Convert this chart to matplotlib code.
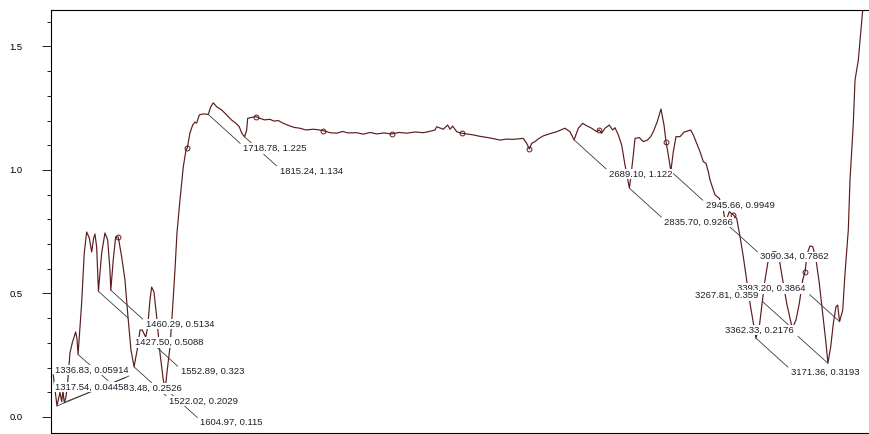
import matplotlib
matplotlib.use('Agg')
import matplotlib.pyplot as plt
from matplotlib.ticker import MultipleLocator

plt.rcParams['font.family'] = ['Liberation Sans', 'DejaVu Sans']

# spectrum (wavenumber, absorbance)
wavenumber = [1307.7, 1317.5, 1325.5, 1330.0, 1333.5, 1336.8, 1341.0, 1345.4, 1352.0, 1358.1,
              1367.1, 1370.5, 1373.5, 1383.0, 1389.9, 1396.3, 1403.2, 1409.6, 1414.9, 1418.3,
              1422.8, 1427.5, 1436.1, 1444.8, 1452.0, 1458.1, 1460.3, 1466.8, 1473.2, 1480.1,
              1489.1, 1497.9, 1505.0, 1513.8, 1522.0, 1531.6, 1537.7, 1543.8, 1552.9, 1558.1,
              1564.2, 1568.7, 1574.8, 1582.0, 1590.7, 1599.5, 1605.0, 1608.5, 1617.2, 1623.9,
              1630.5, 1635.8, 1643.8, 1652.5, 1659.7, 1663.1, 1670.3, 1677.5, 1683.6, 1688.1,
              1695.0, 1705.6, 1718.8, 1725.2, 1732.1, 1741.1, 1754.4, 1767.6, 1780.9, 1792.3,
              1801.1, 1807.4, 1815.2, 1820.7, 1823.3, 1834.0, 1845.4, 1856.0, 1868.0, 1882.5,
              1893.0, 1904.5, 1917.8, 1935.5, 1948.0, 1962.1, 1978.0, 1997.3, 2010.0, 2023.9,
              2041.6, 2059.4, 2075.0, 2090.0, 2112.5, 2130.0, 2148.0, 2165.5, 2185.0, 2205.3,
              2225.0, 2245.1, 2268.0, 2289.1, 2305.0, 2320.2, 2324.7, 2342.2, 2353.8, 2359.9,
              2367.1, 2377.7, 2391.0, 2405.0, 2421.8, 2440.0, 2457.3, 2475.0, 2492.6, 2510.0,
              2527.8, 2554.4, 2563.4, 2570.3, 2576.7, 2585.4, 2596.0, 2607.4, 2625.0, 2643.0,
              2665.0, 2678.2, 2689.1, 2700.3, 2711.9, 2722.5, 2735.8, 2749.1, 2756.0, 2762.3,
              2771.1, 2782.5, 2791.5, 2797.6, 2806.4, 2815.4, 2824.1, 2835.7, 2839.3, 2846.2,
              2850.7, 2862.1, 2872.7, 2883.3, 2892.3, 2899.2, 2909.8, 2919.6, 2927.6, 2932.9,
              2939.0, 2945.7, 2952.3, 2959.4, 2970.0, 2980.6, 2998.4, 3005.3, 3014.3, 3023.1,
              3031.8, 3039.0, 3045.1, 3049.6, 3062.8, 3074.3, 3084.9, 3090.3, 3100.8, 3111.4,
              3120.4, 3129.2, 3137.9, 3146.9, 3155.7, 3166.3, 3171.4, 3180.4, 3186.7, 3195.5,
              3204.2, 3215.9, 3224.7, 3233.4, 3242.4, 3253.0, 3263.7, 3267.8, 3277.7, 3286.5,
              3295.5, 3301.6, 3307.7, 3314.8, 3322.0, 3330.8, 3339.5, 3348.5, 3357.3, 3362.3,
              3369.8, 3376.7, 3383.8, 3388.3, 3393.2, 3401.6, 3407.7, 3416.4, 3420.9, 3429.7,
              3434.2, 3443.0, 3454.6, 3460.7]
absorbance = [0.170, 0.045, 0.100, 0.062, 0.105, 0.059, 0.078, 0.130, 0.259, 0.300,
              0.344, 0.318, 0.253, 0.462, 0.664, 0.749, 0.725, 0.668, 0.725, 0.741,
              0.688, 0.509, 0.664, 0.745, 0.717, 0.595, 0.513, 0.636, 0.729, 0.729,
              0.648, 0.555, 0.421, 0.271, 0.203, 0.283, 0.352, 0.352, 0.323, 0.364,
              0.474, 0.526, 0.506, 0.405, 0.259, 0.150, 0.115, 0.170, 0.283, 0.433,
              0.595, 0.745, 0.879, 1.012, 1.081, 1.089, 1.150, 1.182, 1.194, 1.190,
              1.223, 1.227, 1.225, 1.255, 1.272, 1.256, 1.243, 1.223, 1.202, 1.189,
              1.175, 1.150, 1.134, 1.162, 1.209, 1.213, 1.216, 1.209, 1.203, 1.205,
              1.198, 1.200, 1.189, 1.178, 1.172, 1.169, 1.162, 1.165, 1.163, 1.159,
              1.151, 1.149, 1.156, 1.150, 1.151, 1.145, 1.152, 1.146, 1.150, 1.146,
              1.152, 1.149, 1.154, 1.151, 1.156, 1.162, 1.175, 1.165, 1.182, 1.165,
              1.178, 1.155, 1.149, 1.146, 1.142, 1.136, 1.132, 1.127, 1.121, 1.125,
              1.124, 1.128, 1.108, 1.085, 1.108, 1.115, 1.128, 1.138, 1.147, 1.155,
              1.169, 1.155, 1.122, 1.169, 1.189, 1.179, 1.169, 1.155, 1.162, 1.149,
              1.169, 1.182, 1.162, 1.171, 1.142, 1.101, 1.020, 0.927, 0.968, 1.061,
              1.128, 1.131, 1.115, 1.121, 1.135, 1.155, 1.196, 1.247, 1.182, 1.115,
              1.061, 0.995, 1.074, 1.135, 1.135, 1.153, 1.162, 1.142, 1.108, 1.074,
              1.034, 1.027, 0.993, 0.960, 0.899, 0.885, 0.838, 0.786, 0.831, 0.818,
              0.804, 0.730, 0.649, 0.555, 0.460, 0.366, 0.319, 0.366, 0.447, 0.555,
              0.636, 0.669, 0.669, 0.636, 0.555, 0.460, 0.386, 0.359, 0.393, 0.460,
              0.555, 0.588, 0.663, 0.692, 0.690, 0.636, 0.541, 0.420, 0.298, 0.218,
              0.285, 0.379, 0.447, 0.453, 0.386, 0.433, 0.582, 0.757, 0.960, 1.189,
              1.364, 1.445, 1.648, 1.729]

# small open circles on the trace
marker_wn = [1480.1, 1663.1, 1845.4, 2023.9, 2205.3, 2391.0, 2570.3, 2756.0, 2932.9, 3111.4, 3301.6]

# peak labels, in drawing order (later ones cover earlier ones)
peak_text = ["3.48, 0.2526", "1718.78, 1.225", "1815.24, 1.134", "2689.10, 1.122",
             "2835.70, 0.9266", "2945.66, 0.9949", "3090.34, 0.7862", "3171.36, 0.3193",
             "3393.20, 0.3864", "3267.81, 0.359", "3362.33, 0.2176", "1460.29, 0.5134",
             "1427.50, 0.5088", "1552.89, 0.323", "1522.02, 0.2029", "1604.97, 0.115",
             "1336.83, 0.05914", "1317.54, 0.04458"]
peak_wn = [1373.48, 1718.78, 1815.24, 2689.10, 2835.70, 2945.66, 3090.34, 3171.36,
           3393.20, 3267.81, 3362.33, 1460.29, 1427.50, 1552.89, 1522.02, 1604.97,
           1336.83, 1317.54]
peak_val = [0.2526, 1.225, 1.134, 1.122, 0.9266, 0.9949, 0.7862, 0.3193,
            0.3864, 0.359, 0.2176, 0.5134, 0.5088, 0.323, 0.2029, 0.115,
            0.05914, 0.04458]

# placement of each label: text offset (px), alignment, leader end offset (px)
RD = ((35, -34), 'left', (32, -29))
LU = ((-34, 33), 'right', (-30, 27))
placement = {
  "3.48, 0.2526": ((51, -34), 'left', (30, -26)),
  "3393.20, 0.3864": LU, "3267.81, 0.359": LU, "3362.33, 0.2176": LU,
  "1427.50, 0.5088": ((36.5, -51.4), 'left', (30, -27)),
  "1336.83, 0.05914": ((-9.3, 32.4), 'left', (62, 25)),
  "1317.54, 0.04458": ((-2, 19), 'left', (72, 30)),
}

fig = plt.figure(figsize=(8.69, 4.34), dpi=100)
ax = fig.add_axes([0.0583, 0.003, 0.9417, 0.974])

mk = [wavenumber.index(w) for w in marker_wn]
ax.plot(wavenumber, absorbance, color='#5a1c1c', linewidth=0.85, marker='o', markevery=mk,
        markersize=3.5, markerfacecolor='none', markeredgewidth=0.7, zorder=2)

for i, lab in enumerate(peak_text):
  toff, ha, loff = placement.get(lab, RD)
  ax.annotate('', xy=(peak_wn[i], peak_val[i]), xytext=loff, textcoords='offset pixels',
              arrowprops=dict(arrowstyle='-', color='#3c3c3c', lw=0.6, shrinkA=0, shrinkB=0),
              zorder=3, annotation_clip=False)
for i, lab in enumerate(peak_text):
  toff, ha, loff = placement.get(lab, RD)
  ax.annotate(lab, xy=(peak_wn[i], peak_val[i]), xytext=toff, textcoords='offset pixels',
              ha=ha, va='center', fontsize=6.8, color='#1e1e2a',
              bbox=dict(boxstyle='square,pad=0.08', fc='white', ec='none'),
              zorder=5 + i, annotation_clip=False)

ax.set_xlim(1300.8, 3471.3)
ax.set_ylim(-0.0636, 1.6478)
ax.xaxis.set_major_locator(MultipleLocator(100))
ax.yaxis.set_minor_locator(MultipleLocator(0.1))
ax.set_yticks([0.0, 0.5, 1.0, 1.5])
ax.set_yticklabels(['0.0', '0.5', '1.0', '1.5'], fontsize=6.8)
ax.set_xticklabels([])
ax.tick_params(axis='y', which='major', length=6.5, width=0.6, pad=13.5)
ax.tick_params(axis='y', which='minor', length=2.9, width=0.6)
ax.tick_params(axis='x', which='major', length=2.5, width=0.6)
ax.spines['right'].set_visible(False)
for s in ['left', 'top', 'bottom']:
  ax.spines[s].set_linewidth(0.8)

plt.savefig('out.png', dpi=100)
